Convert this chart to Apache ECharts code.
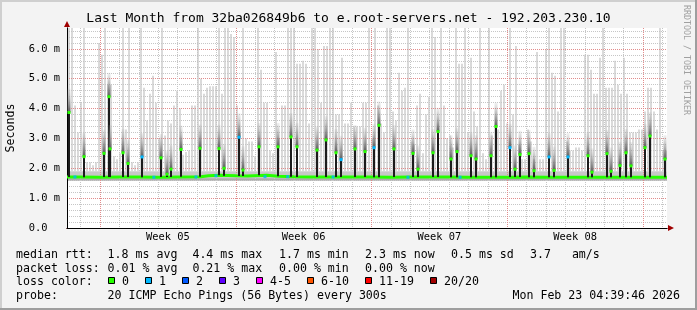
<!DOCTYPE html>
<html><head><meta charset="utf-8">
<script src="https://cdn.jsdelivr.net/npm/echarts@6/dist/echarts.min.js"></script>
<style>
html,body{margin:0;padding:0;background:#f3f3f3;}
#wrap{position:relative;width:697px;height:310px;overflow:hidden;background:#f3f3f3;}
#chart{position:absolute;left:0;top:0;width:697px;height:310px;}
.b{position:absolute;}
</style></head><body>
<div id="wrap"><div id="chart"></div>
<div class="b" style="left:0;top:0;width:697px;height:2px;background:#cfcfcf"></div>
<div class="b" style="left:0;top:0;width:2px;height:310px;background:#cfcfcf"></div>
<div class="b" style="left:0;top:308px;width:697px;height:2px;background:#9e9e9e"></div>
<div class="b" style="left:695px;top:0;width:2px;height:310px;background:#9e9e9e"></div>
</div>
<script>
// ---- data (time in days from Sun 25 Jan 2026 00:00, values in ms) ----
const chartTitle = 'Last Month from 32ba026849b6 to e.root-servers.net - 192.203.230.10';
const xRange = [-1.70, 29.24];
const yRange = [0, 6.7];
const dayLines = [-1,1,2,3,4,5,6,8,9,10,11,12,13,15,16,17,18,19,20,22,23,24,25,26,27,29];
const weekLines = [0,7,14,21,28];
const weekLabelPos = [3.5,10.5,17.5,24.5];
const weekLabels = ['Week 05','Week 06','Week 07','Week 08'];
const yLabelTicks = [0,1,2,3,4,5,6];
const yMajorLines = [1,2,3,4,5,6];
const yMinorLines = [0.2,0.4,0.6,0.8,1.2,1.4,1.6,1.8,2.2,2.4,2.6,2.8,3.2,3.4,3.6,3.8,4.2,4.4,4.6,4.8,5.2,5.4,5.6,5.8,6.2,6.4,6.6];

const smokeStart = -1.805;
const smokeStep = 0.1547;
const smokeTop = [
 6.7,6.7,6.7,4.1,3.2,4.2,6.7,2.2,2.2,2.1, 2.2,6.2,5.8,6.7,4.8,4.8,2.4,2.3,2.5,6.7,
 3.3,6.7,2.2,2.1,2.2,6.7,4.7,3.6,4.5,5.1, 4.2,3.0,6.7,3.1,3.6,3.5,4.1,4.6,4.0,2.45,
 2.55,2.6,4.1,4.1,6.7,5.0,4.5,4.7,4.75,4.75,
 4.75,6.7,4.5,6.7,6.7,6.5,6.4,4.1,3.2,6.7, 3.0,2.9,2.9,2.4,6.7,5.3,4.2,4.2,2.6,2.5,
 5.9,3.0,4.1,4.1,6.7,6.7,6.7,5.5,5.5,5.6, 5.5,3.5,6.7,6.7,6.0,4.2,6.1,6.1,6.7,6.7,
 3.8,3.8,5.7,3.5,3.5,4.2,3.4,3.4,3.4,4.2,
 4.2,6.7,3.0,6.7,4.1,3.5,3.2,6.7,6.7,3.9, 3.6,5.2,4.6,4.7,6.7,2.9,2.8,4.1,4.5,2.5,
 3.8,4.4,6.7,6.4,3.2,6.7,4.1,3.0,3.1,2.7, 6.7,5.5,5.5,6.7,3.2,5.7,3.9,3.4,6.7,2.5,
 2.3,6.7,3.1,3.4,3.3,4.6,4.8,3.5,6.7,3.8,
 6.1,2.8,2.3,2.3,3.3,2.9,2.3,5.9,2.3,2.3, 6.0,6.7,5.2,5.1,3.9,6.7,6.7,2.9,2.6,2.6,
 2.7,2.7,2.6,5.8,5.8,5.3,4.5,4.5,5.7,6.7, 4.7,4.7,4.7,5.6,4.8,4.5,5.7,4.5,3.2,3.2,
 3.2,3.3,3.3,3.9,4.7,4.7,3.9,3.3,6.7,2.6,2.6
];
const smokeBands = [1.58, 1.67, 1.90];

const medianLine = [[-1.70,1.71],[-1.0,1.70],[0.0,1.71],[1.0,1.71],[2.0,1.70],[3.0,1.71],[4.0,1.72],[5.2,1.75],[5.6,1.77],[6.2,1.75],[7.0,1.74],[7.6,1.77],[8.6,1.73],[9.2,1.72],[10.0,1.71],[11.0,1.71],[12.0,1.71],[13.0,1.71],[14.0,1.70],[15.0,1.71],[16.0,1.71],[17.0,1.71],[18.0,1.70],[19.0,1.70],[20.0,1.70],[21.0,1.71],[22.0,1.70],[23.0,1.70],[24.0,1.70],[25.0,1.70],[26.0,1.70],[27.0,1.70],[28.0,1.70],[29.24,1.70]];

// [time, median spike value, loss class]
const spikes = [[-1.58,3.87,0],[-0.83,2.39,0],[0.19,2.50,0],[0.45,4.40,0],[0.54,2.65,0],[1.17,2.52,0],[1.43,2.16,0],[2.17,2.38,1],[3.15,2.35,0],[3.44,1.80,0],[3.66,1.97,0],[4.16,2.63,0],[5.16,2.67,0],[6.14,2.66,0],[6.41,2.00,0],[7.17,3.04,1],[7.39,1.94,0],[8.18,2.72,0],[9.16,2.72,0],[9.83,3.05,0],[10.14,2.72,0],[11.18,2.61,0],[11.66,2.95,0],[12.16,2.52,0],[12.41,2.29,1],[13.15,2.65,0],[13.65,2.56,0],[14.13,2.69,1],[14.39,3.44,0],[15.15,2.65,0],[16.16,2.50,0],[16.42,1.97,0],[17.16,2.52,0],[17.42,3.23,0],[18.12,2.31,0],[18.40,2.56,0],[19.13,2.42,0],[19.39,2.31,0],[20.15,2.42,0],[20.41,3.40,0],[21.16,2.69,1],[21.39,1.97,0],[21.65,2.46,0],[22.14,2.49,0],[22.38,1.92,0],[23.14,2.38,1],[23.40,1.93,0],[24.14,2.38,1],[25.15,2.42,0],[25.37,1.87,0],[26.13,2.49,0],[26.37,1.90,0],[26.80,2.09,0],[27.13,2.52,0],[27.37,2.08,0],[28.12,2.69,0],[28.37,3.08,0],[29.12,2.31,0]];
const lossDots = [[-1.29,1.71],[2.78,1.70],[4.95,1.71],[5.98,1.75],[8.51,1.72],[9.68,1.72],[12.02,1.71],[15.88,1.70],[18.57,1.70]];

const lossLabels = ['0','1','2','3','4-5','6-10','11-19','20/20'];
const lossColors = ['#26ff00','#00b8ff','#0059ff','#5e00ff','#ff00ff','#ff5500','#ff0000','#a10000'];
const rttStats = ['1.8 ms avg','4.4 ms max','1.7 ms min','2.3 ms now','0.5 ms sd','3.7   am/s'];
const lossStats = ['0.01 % avg','0.21 % max','0.00 % min','0.00 % now'];
const probeText = '20 ICMP Echo Pings (56 Bytes) every 300s';
const stampText = 'Mon Feb 23 04:39:46 2026';
const vendorText = 'RRDTOOL / TOBI OETIKER';

// ---- rendering ----
const MONO = '"DejaVu Sans Mono", "Liberation Mono", monospace';
const MAJOR_GRID = '#e28c8c', MINOR_GRID = '#c6c6c6';
function medianAt(t) {
  let v = medianLine[0][1];
  for (const p of medianLine) { if (p[0] <= t) v = p[1]; else break; }
  return v;
}
function renderSmoke(params, api) {
  const t = api.value(0), top = api.value(1);
  const xa = Math.round(api.coord([t, 0])[0]);
  const xb = Math.round(api.coord([t + smokeStep, 0])[0]);
  const w = xb - xa;
  const yLow = api.coord([t, smokeBands[0]])[1];
  const yDark = api.coord([t, smokeBands[1]])[1];
  const yMid = api.coord([t, Math.min(smokeBands[2], top)])[1];
  const yTop = api.coord([t, top])[1];
  return {type:'group', children:[
    {type:'rect', shape:{x:xa, y:yTop, width:Math.max(1, w - 1), height:yMid-yTop}, style:{fill:'#dadada'}},
    {type:'rect', shape:{x:xa, y:yMid, width:w, height:yDark-yMid}, style:{fill:'#c8c8c8'}},
    {type:'rect', shape:{x:xa, y:yDark, width:w, height:yLow-yDark}, style:{fill:'#ababab'}}
  ]};
}
// dotted vertical week grid line, built from 1px dots so it stays crisp
function renderWeekLine(params, api) {
  const t = api.value(0);
  const p0 = api.coord([t, yRange[0]]), p1 = api.coord([t, yRange[1]]);
  const x = Math.round(p0[0]);
  const children = [];
  for (let y = Math.round(p1[1]); y < Math.round(p0[1]); y += 2) {
    children.push({type:'rect', shape:{x:x, y:y, width:1, height:1}, style:{fill:MAJOR_GRID}});
  }
  return {type:'group', children};
}
function renderSpike(params, api) {
  const t = api.value(0), v = api.value(1), loss = api.value(2);
  const top = api.coord([t, v]);
  const base = api.coord([t, medianAt(t)]);
  const haze = api.coord([t, v + 0.8]);
  const x = Math.round(top[0]);
  return {type:'group', children:[
    {type:'rect', shape:{x:x-1.5, y:haze[1], width:3, height:top[1]-haze[1]},
      style:{fill:new echarts.graphic.LinearGradient(0,0,0,1,[{offset:0,color:'rgba(160,160,160,0.15)'},{offset:1,color:'#5a5a5a'}])}},
    {type:'rect', shape:{x:x-1, y:top[1], width:2, height:base[1]-top[1]}, style:{fill:'#1c1c1c'}},
    {type:'rect', shape:{x:x-1.5, y:top[1]-1.5, width:3, height:3}, style:{fill:lossColors[loss]}}
  ]};
}

const rowY = [254.5, 268.5, 282, 296];
const statX = [107.6, 192.4, 279, 365, 451, 530];
const swatchX = [108, 145, 182, 219, 256, 307, 365, 430];
const graphics = [];
const txt = (x, y, s, opts) => Object.assign({type:'text', x, y, z:100,
  style:Object.assign({text:s, fill:'#000', font:'11.6px ' + MONO, textAlign:'left', textVerticalAlign:'middle', align:'left', verticalAlign:'middle'}, opts || {})});
graphics.push(txt(348.5, 19, chartTitle, {font:'13px ' + MONO, textAlign:'center', align:'center'}));
graphics.push(Object.assign(txt(686.5, 60, vendorText, {font:'8.3px ' + MONO, fill:'#a0a0a0', textAlign:'center', align:'center'}), {rotation:-Math.PI/2}));
graphics.push(txt(16, rowY[0], 'median rtt:'));
rttStats.forEach((s, i) => graphics.push(txt(statX[i], rowY[0], s)));
graphics.push(txt(16, rowY[1], 'packet loss:'));
lossStats.forEach((s, i) => graphics.push(txt(statX[i], rowY[1], s)));
graphics.push(txt(16, rowY[2], 'loss color:'));
lossLabels.forEach((s, i) => {
  graphics.push({type:'rect', z:100, shape:{x:swatchX[i]+0.5, y:rowY[2]-4.5, width:6, height:6}, style:{fill:lossColors[i], stroke:'#000', lineWidth:1}});
  graphics.push(txt(swatchX[i] + 14, rowY[2], s));
});
graphics.push(txt(16, rowY[3], 'probe:'));
graphics.push(txt(107.6, rowY[3], probeText));
graphics.push(txt(680, rowY[3], stampText, {textAlign:'right', align:'right'}));

const chart = echarts.init(document.getElementById('chart'), null, {renderer:'canvas'});
chart.setOption({
  animation:false,
  backgroundColor:'transparent',
  grid:{left:67, top:28, width:600, height:200, show:true, backgroundColor:'#ffffff', borderWidth:0,
        containLabel:false, outerBoundsMode:'none'},
  xAxis:[
    {type:'value', min:xRange[0], max:xRange[1], position:'bottom', z:3,
     axisLine:{show:true, onZero:false, lineStyle:{color:'#000', width:1}},
     axisTick:{show:false, customValues:dayLines},
     axisLabel:{show:false},
     splitLine:{show:true, lineStyle:{color:MINOR_GRID, width:1, type:[1,1]}}},
    {type:'value', min:xRange[0], max:xRange[1], position:'bottom', z:2,
     axisLine:{show:true, onZero:false, symbol:['none','triangle'], symbolSize:[6,6], symbolOffset:[0,4], lineStyle:{color:'#a00000', width:1}},
     axisTick:{show:false, customValues:weekLabelPos},
     axisLabel:{show:true, customValues:weekLabelPos, margin:4, color:'#000', fontFamily:MONO, fontSize:10.4,
       formatter:(v) => { const i = weekLabelPos.findIndex(p => Math.abs(p - v) < 1e-6); return i >= 0 ? weekLabels[i] : ''; }},
     splitLine:{show:false}}
  ],
  yAxis:[
    {type:'value', min:yRange[0], max:yRange[1], position:'left', z:3,
     name:'Seconds', nameLocation:'middle', nameRotate:90, nameGap:50,
     nameTextStyle:{fontFamily:MONO, fontSize:11.6, color:'#000'},
     axisLine:{show:true, onZero:false, lineStyle:{color:'#000', width:1}},
     axisTick:{show:false, customValues:yMajorLines},
     axisLabel:{show:true, customValues:yLabelTicks, margin:7, color:'#000', fontFamily:MONO, fontSize:10.4,
       formatter:(v) => v === 0 ? '0.0  ' : v.toFixed(1) + ' m'},
     splitLine:{show:true, lineStyle:{color:MAJOR_GRID, width:1, type:[1,1]}}},
    {type:'value', min:yRange[0], max:yRange[1], position:'left', z:2,
     axisLine:{show:true, onZero:false, symbol:['none','triangle'], symbolSize:[6,6], symbolOffset:[0,4], lineStyle:{color:'#a00000', width:1}},
     axisTick:{show:false, customValues:yMinorLines},
     axisLabel:{show:false},
     splitLine:{show:true, lineStyle:{color:MINOR_GRID, width:1, type:[1,1]}}}
  ],
  series:[
    {type:'custom', name:'smoke', z:1, clip:true, renderItem:renderSmoke,
     data:smokeTop.map((v, i) => [smokeStart + i * smokeStep, v])},
    {type:'custom', name:'weeks', z:3, silent:true, renderItem:renderWeekLine,
     data:weekLines.map(d => [d, yRange[0]])},
    {type:'line', name:'median', z:4, step:'end', showSymbol:false, clip:true,
     lineStyle:{color:'#26ff00', width:3}, data:medianLine},
    {type:'custom', name:'spikes', z:5, clip:true, renderItem:renderSpike, data:spikes},
    {type:'scatter', name:'loss', z:6, symbol:'rect', symbolSize:[3,3], itemStyle:{color:lossColors[1]}, data:lossDots}
  ],
  graphic:graphics
});
</script>
</body></html>
